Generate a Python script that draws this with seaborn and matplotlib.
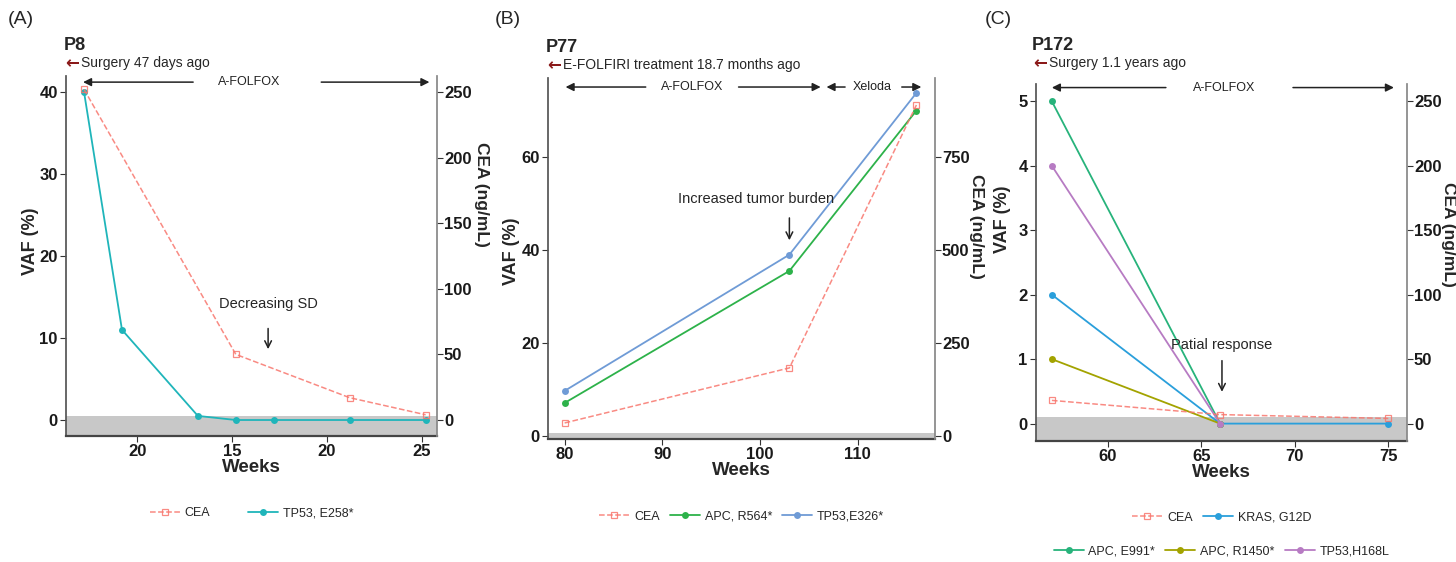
import pandas as pd
import seaborn as sns
import matplotlib.pyplot as plt

sns.set_theme(style="ticks")
FONT = ['Liberation Sans', 'DejaVu Sans']
plt.rcParams['font.family'] = FONT

# ---------------- data ----------------
# (A) P8
a_weeks = [7.2, 9.2, 13.2, 15.2, 17.2, 21.2, 25.2]
a_tp53 = [40, 11, 0.5, 0, 0, 0, 0]
a_cea_weeks = [7.2, 15.2, 21.2, 25.2]
a_cea = [252, 50, 17, 4]
a_xticks = [10, 15, 20, 25]
a_xticklabels = ['20', '15', '20', '25']

# (B) P77
b_weeks = [80, 103, 116]
b_apc = [7.1, 35.5, 70]
b_tp53 = [9.7, 39, 73.8]
b_cea = [35, 183, 890]

# (C) P172
c_weeks = [57, 66, 75]
c_cea = [18, 7, 4]
c_kras = [2, 0, 0]
c_weeks2 = [57, 66]
c_apc_e991 = [5, 0]
c_apc_r1450 = [1, 0]
c_tp53_h168l = [4, 0]

CEA_COL = '#F8766D'
W, H = 1456, 562
fig = plt.figure(figsize=(W / 100, H / 100), dpi=100)


def box(l, r, t, b):
    return [l / W, 1 - b / H, (r - l) / W, (b - t) / H]


def style_axes(ax, ax2, xlim, ylim, ratio, yticks, cticks, xticks, xlabels=None,
               vaf_pos=(-0.09, 0.54), cea_pos=(1.09, 0.62)):
    ax.set_xlim(*xlim)
    ax.set_ylim(*ylim)
    ax2.set_ylim(ylim[0] * ratio, ylim[1] * ratio)
    ax.set_yticks(yticks)
    ax2.set_yticks(cticks)
    ax.set_xticks(xticks)
    if xlabels is not None:
        ax.set_xticklabels(xlabels)
    ax.axhspan(ylim[0], ylim[0] + (ylim[1] - ylim[0]) * 0.055, color='#c8c8c8', zorder=0, lw=0)
    for a in (ax, ax2):
        a.spines['top'].set_visible(False)
        for t in a.get_xticklabels() + a.get_yticklabels():
            t.set_fontweight('bold')
            t.set_fontsize(12)
    ax.spines['right'].set_visible(False)
    ax2.spines['left'].set_visible(False)
    ax2.spines['bottom'].set_visible(False)
    ax.spines['left'].set_color('#555555')
    ax.spines['bottom'].set_color('#444444')
    ax.spines['bottom'].set_linewidth(1.6)
    ax2.spines['right'].set_color('#888888')
    ax.tick_params(length=4, width=0.8, colors='#333333', labelcolor='#1a1a1a', pad=2)
    ax2.tick_params(length=4, width=0.8, colors='#333333', labelcolor='#1a1a1a', pad=1)
    ax.set_xlabel('Weeks', fontsize=13.5, fontweight='bold', labelpad=0)
    ax.set_ylabel('VAF (%)', fontsize=13, fontweight='bold', va='center')
    ax.yaxis.set_label_coords(*vaf_pos)
    ax2.set_ylabel('CEA (ng/mL)', fontsize=12.5, fontweight='bold', rotation=270, va='center')
    ax2.yaxis.set_label_coords(*cea_pos)


def cea_line(ax2, x, y):
    sns.lineplot(x=x, y=y, ax=ax2, color=CEA_COL, linestyle='--', lw=1.1,
                 marker='s', markersize=5, markerfacecolor='none',
                 markeredgecolor=CEA_COL, markeredgewidth=0.9, alpha=0.85, label='CEA')


def var_line(ax, x, y, col, lab):
    sns.lineplot(x=x, y=y, ax=ax, color=col, lw=1.3, marker='o', markersize=5,
                 markeredgewidth=0, label=lab)


def arrow(ax, x0, x1, y):
    ax.annotate('', xy=(x1, y), xytext=(x0, y), xycoords=('data', 'axes fraction'),
                arrowprops=dict(arrowstyle='-|>', color='#222222', lw=1.1,
                                mutation_scale=12, shrinkA=0, shrinkB=0))


def treat(ax, text, x, y):
    ax.annotate(text, xy=(x, y), xycoords=('data', 'axes fraction'), ha='center',
                va='center', fontsize=9, color='#222222')


def header(xp, yp, tag, pid, note):
    fig.text(xp[0] / W, 1 - 20 / H, tag, fontsize=14, va='center')
    fig.text(xp[1] / W, 1 - yp / H, pid, fontsize=13, fontweight='bold', va='center')
    fig.text((xp[1] + 1) / W, 1 - (yp + 18) / H, '\u2190', fontsize=12, color='#8B1A1A',
             va='center', fontweight='bold', family=['DejaVu Sans'])
    fig.text((xp[1] + 17) / W, 1 - (yp + 18) / H, note, fontsize=10, va='center')


def legend(ax, ax2, y, ncol, spacing=2.0, which=None):
    h1, l1 = ax.get_legend_handles_labels()
    h2, l2 = ax2.get_legend_handles_labels()
    hs, ls = h2 + h1, l2 + l1
    if which is not None:
        hs = [hs[i] for i in which]
        ls = [ls[i] for i in which]
    return ax.legend(hs, ls, loc='center', bbox_to_anchor=(0.5, y), ncol=ncol, frameon=False,
                     fontsize=9, handlelength=2.4, columnspacing=spacing, handletextpad=0.4)


# ---------------- (A) ----------------
axA = fig.add_axes(box(66, 437, 76, 436))
axA2 = axA.twinx()
var_line(axA, a_weeks, a_tp53, '#1FB5BA', 'TP53, E258*')
cea_line(axA2, a_cea_weeks, a_cea)
style_axes(axA, axA2, (6.25, 25.8), (-1.95, 41.95), 6.25,
           [0, 10, 20, 30, 40], [0, 50, 100, 150, 200, 250], a_xticks, a_xticklabels,
           vaf_pos=(-0.097, 0.54), cea_pos=(1.12, 0.67))
axA.get_legend().remove()
axA2.get_legend().remove()
legend(axA, axA2, -0.215, 2, spacing=3.0)
arrow(axA, 12.95, 7.15, 0.983)
treat(axA, 'A-FOLFOX', 15.9, 0.983)
arrow(axA, 19.7, 25.4, 0.983)
axA.text(16.9, 14.2, 'Decreasing SD', ha='center', va='center', fontsize=10.5)
axA.annotate('', xy=(16.9, 8.3), xytext=(16.9, 11.5),
             arrowprops=dict(arrowstyle='->', color='#222222', lw=1.1))
header((8, 64), 45, '(A)', 'P8', 'Surgery 47 days ago')

# ---------------- (B) ----------------
axB = fig.add_axes(box(548, 935, 78, 439))
axB2 = axB.twinx()
var_line(axB, b_weeks, b_apc, '#2DB24A', 'APC, R564*')
var_line(axB, b_weeks, b_tp53, '#6F9BD6', 'TP53,E326*')
cea_line(axB2, b_weeks, b_cea)
style_axes(axB, axB2, (78.3, 117.9), (-0.65, 77), 12.5,
           [0, 20, 40, 60], [0, 250, 500, 750], [80, 90, 100, 110],
           vaf_pos=(-0.095, 0.52), cea_pos=(1.108, 0.59))
axB.patches[0].set_height(1.25)
axB.get_legend().remove()
axB2.get_legend().remove()
legend(axB, axB2, -0.215, 3, spacing=0.8)
arrow(axB, 88.3, 80.1, 0.975)
treat(axB, 'A-FOLFOX', 93.1, 0.975)
arrow(axB, 97.8, 106.2, 0.975)
arrow(axB, 108.7, 106.8, 0.975)
treat(axB, 'Xeloda', 111.5, 0.975)
arrow(axB, 114.5, 116.5, 0.975)
axB.text(99.6, 51, 'Increased tumor burden', ha='center', va='center', fontsize=10.5)
axB.annotate('', xy=(103, 41.5), xytext=(103, 47.5),
             arrowprops=dict(arrowstyle='->', color='#222222', lw=1.1))
header((495, 546), 47, '(B)', 'P77', 'E-FOLFIRI treatment 18.7 months ago')

# ---------------- (C) ----------------
axC = fig.add_axes(box(1036, 1407, 84, 441))
axC2 = axC.twinx()
var_line(axC, c_weeks, c_kras, '#2A9FDB', 'KRAS, G12D')
var_line(axC, c_weeks2, c_apc_e991, '#27B37B', 'APC, E991*')
var_line(axC, c_weeks2, c_apc_r1450, '#A3A300', 'APC, R1450*')
var_line(axC, c_weeks2, c_tp53_h168l, '#B77BC3', 'TP53,H168L')
cea_line(axC2, c_weeks, c_cea)
style_axes(axC, axC2, (56.15, 76.0), (-0.27, 5.27), 50,
           [0, 1, 2, 3, 4, 5], [0, 50, 100, 150, 200, 250], [60, 65, 70, 75],
           vaf_pos=(-0.089, 0.62), cea_pos=(1.113, 0.58))
axC.patches[0].set_height(0.37)
axC.get_legend().remove()
axC2.get_legend().remove()
legC = legend(axC, axC2, -0.215, 2, spacing=0.8, which=[0, 1])
axC.add_artist(legC)
legend(axC, axC2, -0.31, 3, spacing=0.8, which=[2, 3, 4])
arrow(axC, 63.1, 57.0, 0.99)
treat(axC, 'A-FOLFOX', 66.2, 0.99)
arrow(axC, 69.9, 75.3, 0.99)
axC.text(66.1, 1.22, 'Patial response', ha='center', va='center', fontsize=10.5)
axC.annotate('', xy=(66.1, 0.45), xytext=(66.1, 1.02),
             arrowprops=dict(arrowstyle='->', color='#222222', lw=1.1))
header((985, 1032), 45, '(C)', 'P172', 'Surgery 1.1 years ago')

fig.savefig('out.png', dpi=100, facecolor='white')
